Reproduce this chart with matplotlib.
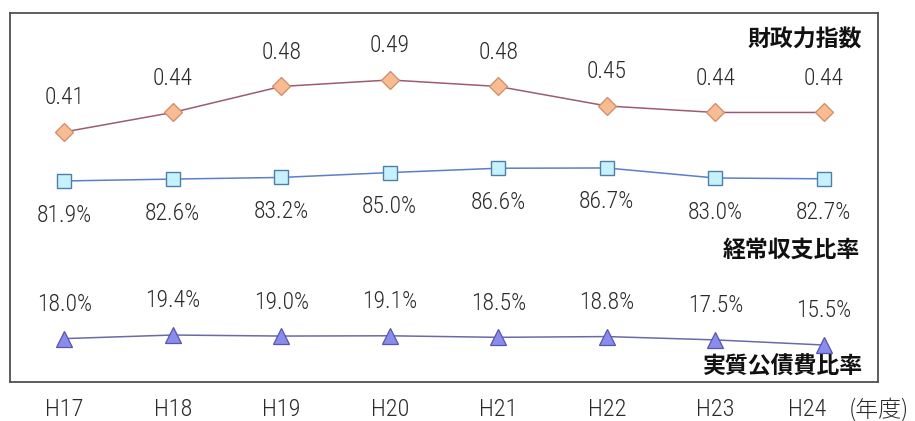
import matplotlib
matplotlib.use("Agg")
import matplotlib.pyplot as plt

# 年度ごとの財政指標
years = ["H17", "H18", "H19", "H20", "H21", "H22", "H23", "H24"]
zaisei_ryoku = [0.41, 0.44, 0.48, 0.49, 0.48, 0.45, 0.44, 0.44]     # 財政力指数
keijo_shushi = [81.9, 82.6, 83.2, 85.0, 86.6, 86.7, 83.0, 82.7]      # 経常収支比率 (%)
jisshitsu_kousai = [18.0, 19.4, 19.0, 19.1, 18.5, 18.8, 17.5, 15.5]  # 実質公債費比率 (%)

NUM_FONT = ["Roboto Condensed", "Liberation Sans Narrow", "Arial Narrow",
            "Archivo Narrow", "PT Sans Narrow", "Liberation Sans"]
JP_FONT = ["Noto Sans CJK JP", "DejaVu Sans"]
plt.rcParams["font.family"] = NUM_FONT
NUM_WEIGHT = 300

fig = plt.figure(figsize=(9.15, 4.21), dpi=100)
ax = fig.add_axes([10 / 915, 1 - 382 / 421, 868 / 915, 369 / 421])
ax_k = ax.twinx()
ax_j = ax.twinx()

x = list(range(len(years)))

for a in (ax, ax_k, ax_j):
    a.set_xlim(-0.5, 7.5)
    a.set_yticks([])
    a.tick_params(axis="x", length=0, labelbottom=False)
    for s in a.spines.values():
        s.set_visible(False)
for s in ax.spines.values():
    s.set_visible(True)
    s.set_color("#505050")
    s.set_linewidth(1.3)
ax.set_xticks([])

# each series on its own vertical scale inside the same frame
ax.set_ylim(0.0254, 0.593)
ax_k.set_ylim(7.7, 143.9)
ax_j.set_ylim(1.05, 145.2)

ax.plot(x, zaisei_ryoku, color="#9C5C72", lw=1.1, marker="D", ms=9,
        mfc="#F8BC92", mec="#D08A68", mew=0.9, zorder=3)
ax_k.plot(x, keijo_shushi, color="#5B7FC8", lw=1.1, marker="s", ms=10,
          mfc="#C6F2FF", mec="#4F7FA8", mew=1.0, zorder=3)
ax_j.plot(x, jisshitsu_kousai, color="#6A6AA6", lw=1.1, marker="^", ms=11,
          mfc="#8A8CEB", mec="#5656B0", mew=0.9, zorder=3)

lab_kw = dict(ha="center", va="center", fontsize=17, color="#2a2a2a",
              fontweight=NUM_WEIGHT, textcoords="offset points")
for xi, v in zip(x, zaisei_ryoku):
    ax.annotate(f"{v:.2f}", (xi, v), xytext=(0, 24.5), **lab_kw)
for xi, v in zip(x, keijo_shushi):
    ax_k.annotate(f"{v:.1f}%", (xi, v), xytext=(0, -24.5), **lab_kw)
for xi, v in zip(x, jisshitsu_kousai):
    ax_j.annotate(f"{v:.1f}%", (xi, v), xytext=(0, 24.5), **lab_kw)

# series titles
title_kw = dict(ha="right", va="center", fontsize=16.5, fontweight="bold",
                color="#111111", family=JP_FONT, transform=ax.transAxes)
ax.text(0.9816, 0.9268, "財政力指数", **title_kw)
ax.text(0.979, 0.3577, "経常収支比率", **title_kw)
ax.text(0.9827, 0.0407, "実質公債費比率", **title_kw)

# year labels below the frame
xt = ax.get_xaxis_transform()
for xi, yr in zip(x, years):
    dx = -0.15 if xi == len(years) - 1 else 0.0
    ax.text(xi + dx, -28 / 369, yr, ha="center", va="center",
            fontsize=17.5, color="#2a2a2a", fontweight=NUM_WEIGHT, transform=xt)
fig.text(849 / 915, 1 - 410 / 421, "(年度)", ha="left", va="center",
         fontsize=16.5, color="#2a2a2a", fontweight=NUM_WEIGHT, family=JP_FONT)

fig.savefig("out.png", dpi=100, facecolor="white")
